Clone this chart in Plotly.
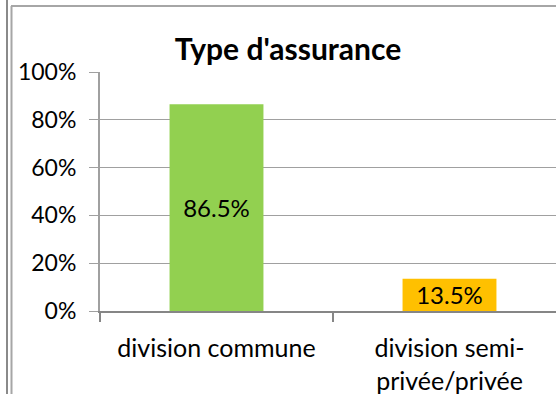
import plotly.graph_objects as go

categories = ["division commune", "division semi-<br>privée/privée"]
values = [0.865, 0.135]
labels = ["86.5%", "13.5%"]
colors = ["#92D050", "#FFC000"]
title_text = "Type d'assurance"

FONT = "Lato"
W, H = 556, 394
L, T, B = 100, 72, 83

fig = go.Figure()
fig.add_trace(go.Bar(
    x=categories, y=values, text=labels,
    marker=dict(color=colors, line=dict(width=0)),
    width=0.403,
    textposition="inside", insidetextanchor="middle",
    textfont=dict(family=FONT, size=24, color="#000000"),
    hoverinfo="skip",
))

def px_x(p):
    return (p - L) / (W - L)

def px_y(p):
    return (H - B - p) / (H - B - T)

shapes = [
    dict(type="line", xref="paper", yref="paper", x0=px_x(7), x1=px_x(7), y0=px_y(0), y1=px_y(H),
         line=dict(color="#8a8a8a", width=2)),
    dict(type="line", xref="paper", yref="paper", x0=px_x(11.5), x1=px_x(11.5), y0=px_y(6), y1=px_y(H),
         line=dict(color="#a6a6a6", width=2)),
    dict(type="line", xref="paper", yref="paper", x0=px_x(11), x1=px_x(W + 5), y0=px_y(6), y1=px_y(6),
         line=dict(color="#a6a6a6", width=2)),
]

fig.update_layout(
    width=W, height=H,
    margin=dict(l=L, r=0, t=T, b=B, pad=0),
    paper_bgcolor="white", plot_bgcolor="white",
    font=dict(family=FONT, size=23, color="#000000"),
    title=dict(text="<b>" + title_text + "</b>", x=288 / W, xanchor="center",
               y=1 - 49 / H, yanchor="middle", yref="container",
               font=dict(family=FONT, size=30, color="#000000")),
    showlegend=False,
    bargap=0.6,
    uniformtext=dict(minsize=24, mode="show"),
    shapes=shapes,
    xaxis=dict(
        type="category", range=[-0.5, -0.5 + (W - L) / 233.0],
        showgrid=False, showline=True, linecolor="#868686", linewidth=2,
        ticks="outside", tickson="boundaries", ticklen=9, tickcolor="#868686", tickwidth=2,
        tickfont=dict(family=FONT, size=25, color="#000000"),
        ticklabelstandoff=14,
        zeroline=False, fixedrange=True,
    ),
    yaxis=dict(
        range=[0, 1], dtick=0.2, tick0=0, tickformat=".0%",
        showgrid=True, gridcolor="#a0a0a0", gridwidth=1,
        showline=True, linecolor="#a0a0a0", linewidth=2,
        ticks="outside", ticklen=9, tickcolor="#a0a0a0", tickwidth=1,
        tickfont=dict(family=FONT, size=23, color="#000000"),
        ticklabelstandoff=8,
        zeroline=False, fixedrange=True,
    ),
)

fig.write_html("out.html", config=dict(displayModeBar=False))
